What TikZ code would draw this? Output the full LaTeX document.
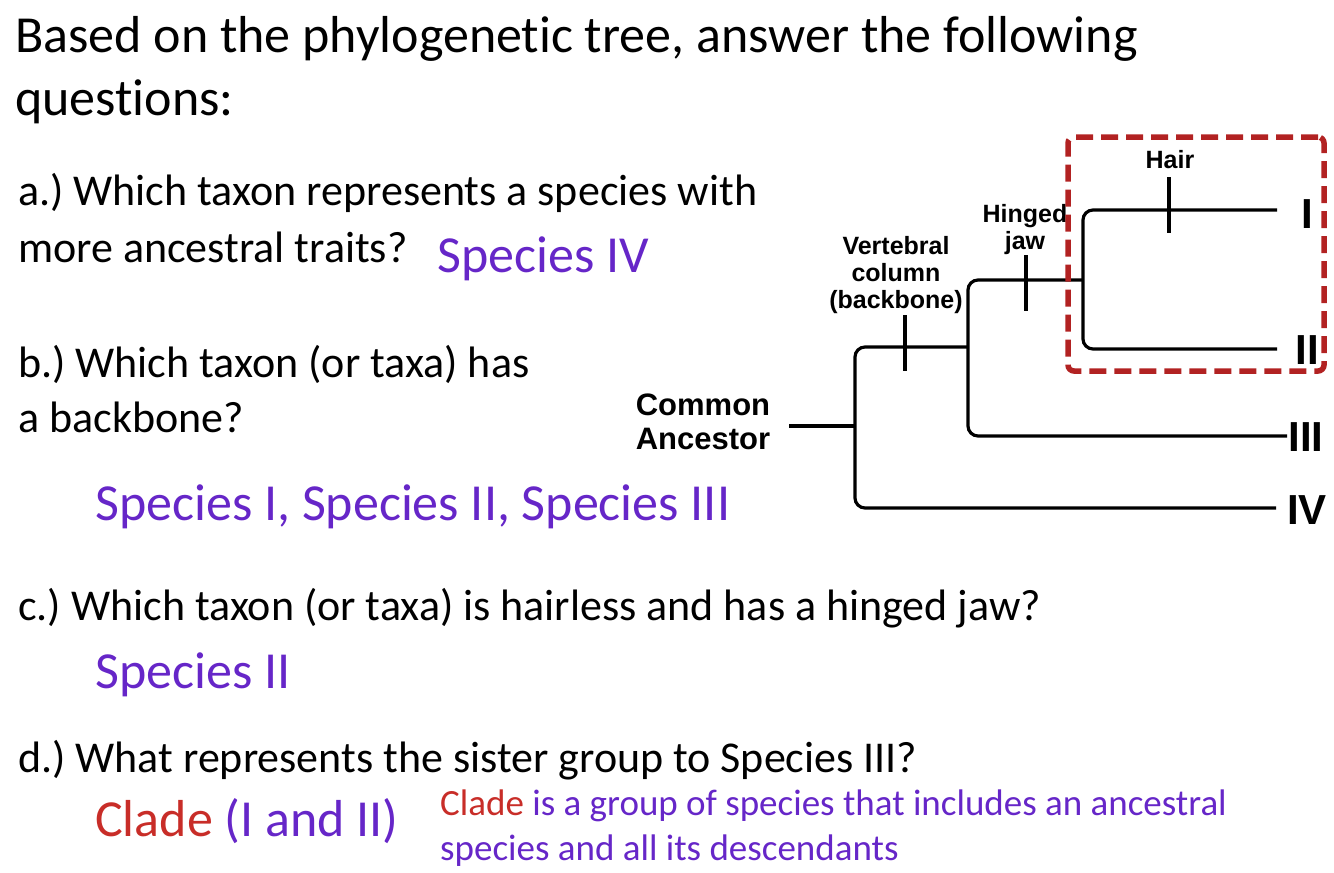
\documentclass[tikz,border=0pt]{standalone}
\usepackage{fontspec}
\setmainfont{Carlito}[Ligatures=NoCommon]
\newfontfamily\treefont{Liberation Sans}
\usepackage{xcolor}
\usetikzlibrary{positioning}
\definecolor{ansviolet}{RGB}{102,38,200}
\definecolor{cladered}{RGB}{200,45,40}
\definecolor{boxred}{RGB}{178,34,34}
\frenchspacing

\begin{document}
\begin{tikzpicture}[x=1pt, y=-1pt,
  heading/.style={anchor=base west, inner sep=0pt, font=\fontsize{52}{64}\selectfont},
  question/.style={anchor=base west, inner sep=0pt, font=\fontsize{44}{53}\selectfont},
  answer/.style={anchor=base west, inner sep=0pt, text=ansviolet, font=\fontsize{52}{62}\selectfont},
  note/.style={anchor=base west, inner sep=0pt, text=ansviolet, font=\fontsize{37}{46}\selectfont},
  trait/.style={align=center, inner sep=0pt, font=\treefont\bfseries\fontsize{25}{27}\selectfont},
  taxon/.style={inner sep=0pt, font=\treefont\bfseries\fontsize{42}{44}\selectfont},
  branch/.style={line width=3.2pt, rounded corners=10pt},
  tick/.style={line width=3.2pt},
  cladebox/.style={draw=boxred, line width=5.5pt, dash pattern=on 17pt off 8pt, rounded corners=6pt, minimum width=256pt, minimum height=234pt, inner sep=0pt}
]
  \useasboundingbox (0,0) rectangle (1334,873);

  % questions and answers
  \node[heading] (title1) at (15,52) {Based on the phylogenetic tree, answer the following};
  \node[heading] (title2) at (15,115) {questions:};

  \node[question] (qa1) at (18,205) {a.) Which taxon represents a species with};
  \node[question] (qa2) at (18,262) {more ancestral traits?};
  \node[answer] (ansa) at (437,272) {Species IV};

  \node[question] (qb1) at (18,377) {b.) Which taxon (or taxa) has};
  \node[question] (qb2) at (18,432) {a backbone?};
  \node[answer] (ansb) at (95,520) {Species I, Species II, Species III};

  \node[question] (qc) at (18,620) {c.) Which taxon (or taxa) is hairless and has a hinged jaw?};
  \node[answer] (ansc) at (95,688) {Species II};

  \node[question] (qd) at (18,772) {d.) What represents the sister group to Species III?};
  \node[answer] (ansd) at (95,836) {\textcolor{cladered}{Clade} (I and II)};
  \node[note] (def1) at (440,815) {\textcolor{cladered}{Clade} is a group of species that includes an ancestral};
  \node[note] (def2) at (440,860) {species and all its descendants};

  % tree
  \node[trait, font=\treefont\bfseries\fontsize{31}{34}\selectfont] (anc) at (703,422) {Common\\Ancestor};
  \node[trait] (backbone) at (896,275) {Vertebral\\column\\(backbone)};
  \node[trait] (jaw) at (1025,230) {Hinged\\jaw};
  \node[trait] (hair) at (1170,160) {Hair};

  \node[taxon] (sI) at (1307,214) {I};
  \node[taxon] (sII) at (1307,350) {II};
  \node[taxon] (sIII) at (1306,437) {III};
  \node[taxon] (sIV) at (1307,510) {IV};

  \coordinate (stem) at (789,426);
  \coordinate (root) at (855,426);
  \coordinate (nBack) at (968,347);
  \coordinate (nJaw) at (1083,280);
  \coordinate (tI) at (1277,210);
  \coordinate (tII) at (1277,349);
  \coordinate (tIII) at (1287,436);
  \coordinate (tIV) at (1276,508);

  \draw[branch] (stem) -- (root);
  \draw[branch] (nBack) -| (root) |- (tIV);
  \draw[branch] (nJaw) -| (nBack) |- (tIII);
  \draw[branch] (tI) -| (nJaw) |- (tII);

  \coordinate (kBack) at (905,343);
  \coordinate (kJaw) at (1026,283);
  \coordinate (kHair) at (1169,205);
  \draw[tick] (kBack) ++(0,-28) -- ++(0,56);
  \draw[tick] (kJaw) ++(0,-28) -- ++(0,56);
  \draw[tick] (kHair) ++(0,-28) -- ++(0,56);

  \node[cladebox] (clade) at (1196,254) {};
\end{tikzpicture}
\end{document}
